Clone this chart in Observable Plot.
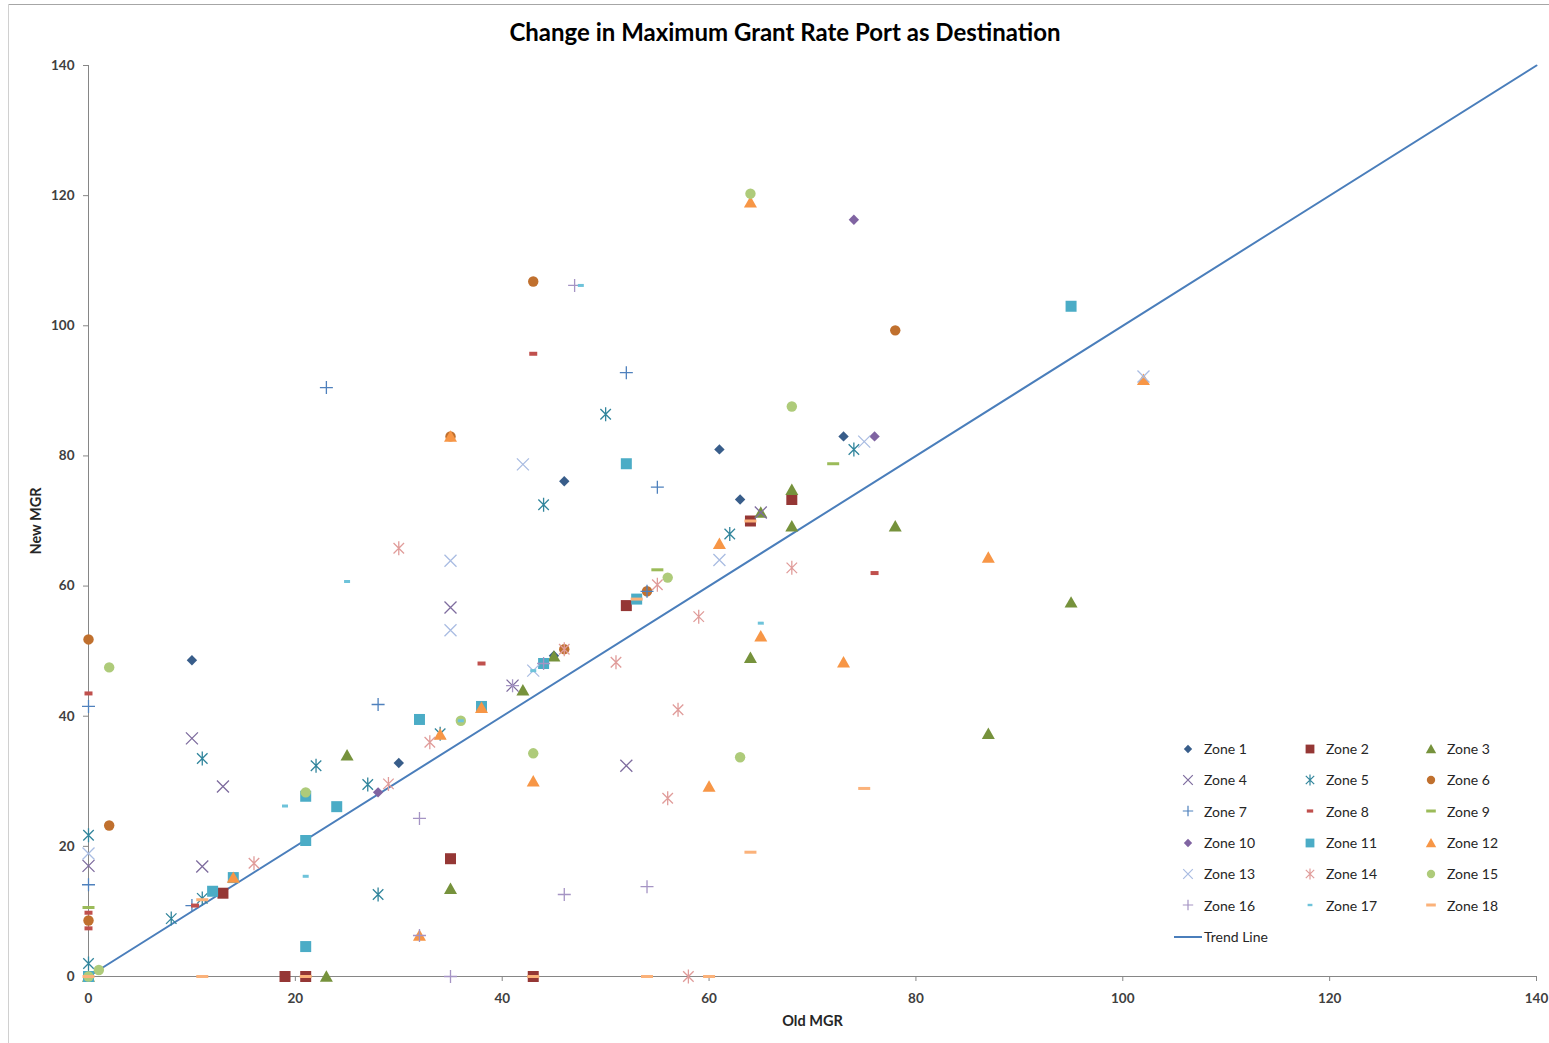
<!DOCTYPE html>
<html>
<head>
<meta charset="utf-8">
<script src="https://cdn.jsdelivr.net/npm/d3@7"></script>
<script src="https://cdn.jsdelivr.net/npm/@observablehq/plot@0.6"></script>
<style>
  body { margin: 0; background: #fff; font-family: Lato, "Open Sans", sans-serif; }
  #frame { position: relative; width: 1549px; height: 1043px; overflow: hidden; background: #fff; }
  #borderTop { position: absolute; left: 8px; top: 4px; width: 1541px; height: 1px; background: #a6a6a6; }
  #borderLeft { position: absolute; left: 8px; top: 4px; width: 1px; height: 1039px; background: #d0d0d0; }
  #title { height: 50px; box-sizing: border-box; padding-top: 19px; padding-left: 21px;
           font: bold 24px/26px Lato, sans-serif; text-align: center; color: #000; }
  #legend { position: absolute; left: 1180px; top: 733px; display: grid;
            grid-template-columns: 122px 121px 110px; grid-auto-rows: 31.3px;
            font: 14px Lato, sans-serif; color: #262626; }
  #legend div, #trend { display: flex; align-items: center; white-space: nowrap; }
  #legend svg { margin-right: 8px; overflow: visible; }
  #trend { position: absolute; left: 1174px; top: 921px; height: 31.3px; font: 14px Lato, sans-serif; color: #262626; }
</style>
</head>
<body>
<div id="frame">
  <div id="title">Change in Maximum Grant Rate Port as Destination</div>
  <div id="chart"></div>
  <div id="legend"></div>
  <div id="trend"></div>
  <div id="borderTop"></div>
  <div id="borderLeft"></div>
</div>
<script>
// Old MGR (x) and New MGR (y) pairs for each zone
const zone1  = [[0,0],[10,48.6],[30,32.8],[45,49.3],[46,76.1],[61,81],[63,73.3],[73,83]];
const zone2  = [[0,0],[13,12.8],[19,0],[21,0],[35,18.1],[43,0],[52,57],[64,70],[68,73.3]];
const zone3  = [[0,0],[23,0],[25,34],[35,13.5],[42,44],[45,49.2],[64,49],[65,71.3],[68,74.8],[68,69.2],[78,69.2],[87,37.3],[95,57.5]];
const zone4  = [[0,17],[10,36.6],[11,16.9],[13,29.2],[35,56.7],[41,44.7],[52,32.4],[65,71.3]];
const zone5  = [[0,21.7],[0,2],[8,8.9],[11,33.5],[11,12],[22,32.4],[27,29.5],[28,12.6],[34,37.3],[44,72.5],[50,86.4],[62,68],[74,81]];
const zone6  = [[0,51.8],[0,8.6],[2,23.2],[35,83],[43,106.8],[46,50.3],[54,59.2],[78,99.3]];
const zone7  = [[0,41.5],[0,14.1],[10,10.9],[23,90.5],[28,41.8],[52,92.8],[54,59.2],[55,75.2]];
const zone8  = [[0,43.5],[0,9.8],[0,7.4],[10.3,10.9],[38,48.1],[43,95.7],[76,62]];
const zone9  = [[0,10.6],[55,62.5],[72,78.8]];
const zone10 = [[28,28.3],[74,116.3],[76,83]];
const zone11 = [[0,0],[12,13.1],[14,15.2],[21,27.7],[21,20.9],[21,4.6],[24,26.1],[32,39.5],[38,41.5],[44,48.1],[52,78.8],[53,58],[95,103]];
const zone12 = [[14,15.2],[32,6.3],[34,37.2],[35,83],[38,41.3],[43,30],[60,29.2],[61,66.5],[64,119],[65,52.3],[73,48.3],[87,64.4],[102,91.7]];
const zone13 = [[0,18.9],[35,63.9],[35,53.2],[42,78.7],[43,47],[61,64],[75,82.2],[102,92.2]];
const zone14 = [[16,17.4],[29,29.6],[30,65.8],[33,36],[46,50.3],[51,48.3],[55,60.2],[56,27.4],[57,41],[58,0],[59,55.3],[68,62.8]];
const zone15 = [[0,0],[1,1],[2,47.5],[21,28.3],[36,39.3],[43,34.3],[56,61.3],[63,33.7],[64,120.3],[68,87.6]];
const zone16 = [[32,24.3],[32,6.3],[35,0],[41,44.7],[44,48.1],[46,12.6],[47,106.2],[54,13.8]];
const zone17 = [[19,26.2],[21,15.4],[25,60.7],[36,39.3],[43,47],[47.6,106.2],[65,54.3]];
const zone18 = [[0,0],[11,0],[11,11.8],[21,0],[43,0],[53,58],[54,0],[60,0],[64,19.1],[64,70],[75,28.9]];

const zoneNames = ["Zone 1","Zone 2","Zone 3","Zone 4","Zone 5","Zone 6","Zone 7","Zone 8","Zone 9",
                   "Zone 10","Zone 11","Zone 12","Zone 13","Zone 14","Zone 15","Zone 16","Zone 17","Zone 18"];
const zoneData = [zone1,zone2,zone3,zone4,zone5,zone6,zone7,zone8,zone9,
                  zone10,zone11,zone12,zone13,zone14,zone15,zone16,zone17,zone18];

// Reference line y = x
const trendX = [0, 140];
const trendY = [0, 140];

const xTicks = [0, 20, 40, 60, 80, 100, 120, 140];
const yTicks = [0, 20, 40, 60, 80, 100, 120, 140];

// Marker shapes; size is the area Plot passes in (π r²)
const rad = size => Math.sqrt(size / Math.PI);
const shapes = {
  diamond: { draw(c, s) { const r = rad(s); c.moveTo(0,-r); c.lineTo(r,0); c.lineTo(0,r); c.lineTo(-r,0); c.closePath(); } },
  square:  { draw(c, s) { const r = rad(s); c.rect(-r,-r,2*r,2*r); } },
  triangle:{ draw(c, s) { const r = rad(s); c.moveTo(0,-r); c.lineTo(r*1.05,r*0.85); c.lineTo(-r*1.05,r*0.85); c.closePath(); } },
  circle:  { draw(c, s) { const r = rad(s); c.moveTo(r,0); c.arc(0,0,r,0,2*Math.PI); } },
  times:   { draw(c, s) { const r = rad(s)*0.8; c.moveTo(-r,-r); c.lineTo(r,r); c.moveTo(r,-r); c.lineTo(-r,r); } },
  plus:    { draw(c, s) { const r = rad(s); c.moveTo(-r,0); c.lineTo(r,0); c.moveTo(0,-r); c.lineTo(0,r); } },
  asterisk:{ draw(c, s) { const r = rad(s); const d = r*0.75; c.moveTo(0,-r); c.lineTo(0,r); c.moveTo(-d,-d); c.lineTo(d,d); c.moveTo(d,-d); c.lineTo(-d,d); } },
  dashThick:{ draw(c, s) { const r = rad(s); c.rect(-r,-r*0.5,2*r,r); } },
  dashThin: { draw(c, s) { const r = rad(s); c.rect(-r,-1.5,2*r,3); } }
};

const looks = [
  {shape:"diamond",  color:"#385d8a", r:5.2, filled:true},
  {shape:"square",   color:"#953735", r:5.5, filled:true},
  {shape:"triangle", color:"#76923c", r:6.2, filled:true},
  {shape:"times",    color:"#7e6c9e", r:7.5, filled:false},
  {shape:"asterisk", color:"#31859c", r:7,   filled:false},
  {shape:"circle",   color:"#c0702e", r:5.2, filled:true},
  {shape:"plus",     color:"#4f81bd", r:6.5, filled:false},
  {shape:"dashThick",color:"#c0504d", r:4,   filled:true},
  {shape:"dashThin", color:"#9bbb59", r:6,   filled:true},
  {shape:"diamond",  color:"#8064a2", r:5.2, filled:true},
  {shape:"square",   color:"#4bacc6", r:5.5, filled:true},
  {shape:"triangle", color:"#f79646", r:6.2, filled:true},
  {shape:"times",    color:"#a9bce2", r:7.5, filled:false},
  {shape:"asterisk", color:"#e09c9a", r:7,   filled:false},
  {shape:"circle",   color:"#aecb7a", r:5.2, filled:true},
  {shape:"plus",     color:"#a594c4", r:6.5, filled:false},
  {shape:"dashThick",color:"#6ec3da", r:3,   filled:true},
  {shape:"dashThin", color:"#fbb27a", r:6,   filled:true}
];

const dotMarks = zoneData.map((pts, i) => {
  const L = looks[i];
  return Plot.dot(pts, {
    x: d => d[0], y: d => d[1],
    symbol: shapes[L.shape], r: L.r,
    fill: L.filled ? L.color : "none",
    stroke: L.filled ? "none" : L.color,
    strokeWidth: L.filled ? 0 : 1.3
  });
});

const chart = Plot.plot({
  width: 1549, height: 993,
  marginLeft: 88, marginRight: 13, marginTop: 15, marginBottom: 67,
  x: {domain: [0, 140]},
  y: {domain: [0, 140]},
  style: {fontFamily: "Lato, sans-serif", fontSize: "13px", background: "transparent"},
  marks: [
    Plot.axisX(xTicks, {tickSize: 5, tickPadding: 12, stroke: "#868686", fill: "#404040", fontWeight: "bold", fontSize: 13.5, label: null}),
    Plot.axisY(yTicks, {tickSize: 5, tickPadding: 9, stroke: "#868686", fill: "#404040", fontWeight: "bold", fontSize: 13.5, label: null}),
    Plot.ruleX([0], {stroke: "#868686"}),
    Plot.ruleY([0], {stroke: "#868686"}),
    Plot.text(["Old MGR"], {frameAnchor: "bottom", dy: 49, textAnchor: "middle", fontWeight: "bold", fill: "#262626", fontSize: 14.5}),
    Plot.text(["New MGR"], {frameAnchor: "left", dx: -52, textAnchor: "middle", rotate: -90, fontWeight: "bold", fill: "#262626", fontSize: 14.5}),
    Plot.line(trendX.map((x, i) => [x, trendY[i]]), {x: d => d[0], y: d => d[1], stroke: "#4a7ebb", strokeWidth: 2}),
    ...dotMarks
  ]
});
document.getElementById("chart").appendChild(chart);

// Legend: 3 columns of zone swatches, then the trend line entry
function swatch(L, scale) {
  const s = d3.create("svg").attr("width", 16).attr("height", 16);
  const r = L.r * scale;
  s.append("path")
    .attr("transform", "translate(8,8)")
    .attr("d", d3.symbol(shapes[L.shape], Math.PI * r * r)())
    .attr("fill", L.filled ? L.color : "none")
    .attr("stroke", L.filled ? "none" : L.color)
    .attr("stroke-width", L.filled ? 0 : 1.2);
  return s.node();
}
const legend = document.getElementById("legend");
zoneNames.forEach((name, i) => {
  const cell = document.createElement("div");
  cell.appendChild(swatch(looks[i], 0.8));
  cell.appendChild(document.createTextNode(name));
  legend.appendChild(cell);
});
const trend = document.getElementById("trend");
const ts = d3.create("svg").attr("width", 28).attr("height", 4).style("margin-right", "2px");
ts.append("line").attr("x1", 0).attr("x2", 28).attr("y1", 2).attr("y2", 2).attr("stroke", "#4a7ebb").attr("stroke-width", 2);
trend.appendChild(ts.node());
trend.appendChild(document.createTextNode("Trend Line"));
</script>
</body>
</html>
